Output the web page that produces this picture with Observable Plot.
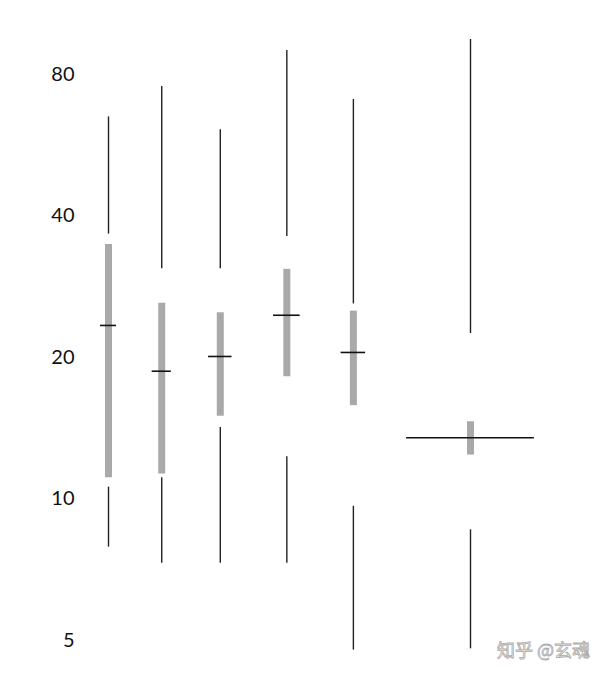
<!DOCTYPE html>
<html><head><meta charset="utf-8">
<script src="https://cdn.jsdelivr.net/npm/d3@7"></script>
<script src="https://cdn.jsdelivr.net/npm/@observablehq/plot@0.6"></script>
<style>
body{margin:0;background:#fff;}
#chart{position:relative;width:608px;height:678px;}
#wm{position:absolute;left:497px;top:636px;font-family:"Noto Sans CJK SC";font-size:18px;color:#fff;-webkit-text-stroke:0.8px #aaa;letter-spacing:0px;}
</style>
</head><body>
<div id="chart"></div>
<script>
const groups = ["A","B","C","D","E","F"];
const groupPos = [1, 2, 3.1, 4.35, 5.6, 7.8];
const whiskerTop = [65, 75.4, 61, 90, 70.8, 95];
const whiskerTopEnd = [36.6, 30.9, 30.9, 36.2, 26.0, 22.5];
const q3 = [34.8, 26.1, 24.9, 30.8, 25.1, 14.6];
const median = [23.4, 18.7, 20.1, 24.6, 20.5, 13.5];
const q1 = [11.1, 11.3, 15.0, 18.2, 15.8, 12.4];
const whiskerBottomStart = [10.6, 11.1, 14.2, 12.3, 9.65, 8.6];
const whiskerBottom = [7.9, 7.3, 7.3, 7.3, 4.77, 4.8];
const medianHalfWidth = [0.15, 0.18, 0.22, 0.25, 0.23, 1.2];
const yTicks = [5, 10, 20, 40, 80];
const watermark = "知乎 @玄魂";

const data = groups.map((g, i) => ({
  g, x: groupPos[i], top: whiskerTop[i], topEnd: whiskerTopEnd[i],
  q3: q3[i], med: median[i], q1: q1[i],
  botStart: whiskerBottomStart[i], bot: whiskerBottom[i],
  mx1: groupPos[i] - medianHalfWidth[i], mx2: groupPos[i] + medianHalfWidth[i]
}));

const chart = Plot.plot({
  width: 608,
  height: 678,
  marginTop: 74,
  marginBottom: 38,
  marginLeft: 80,
  marginRight: 60,
  style: {fontFamily: "Lato, 'Open Sans', sans-serif", fontSize: "20px", color: "#111"},
  x: {domain: [1, 7.8], range: [108, 470], axis: null},
  y: {type: "log", base: 2, domain: [5, 80], ticks: yTicks, tickFormat: d => String(d), tickSize: 0, tickPadding: 6, label: null},
  marks: [
    Plot.ruleX(data, {x: "x", y1: "top", y2: "topEnd", stroke: "#222", strokeWidth: 1.4}),
    Plot.ruleX(data, {x: "x", y1: "botStart", y2: "bot", stroke: "#222", strokeWidth: 1.4}),
    Plot.ruleX(data, {x: "x", y1: "q1", y2: "q3", stroke: "#a9a9a9", strokeWidth: 7}),
    Plot.ruleY(data, {y: "med", x1: "mx1", x2: "mx2", stroke: "#111", strokeWidth: 1.6})
  ]
});
document.getElementById("chart").appendChild(chart);
const wm = document.createElement("div");
wm.id = "wm";
wm.textContent = watermark;
document.getElementById("chart").appendChild(wm);
</script>
</body></html>
